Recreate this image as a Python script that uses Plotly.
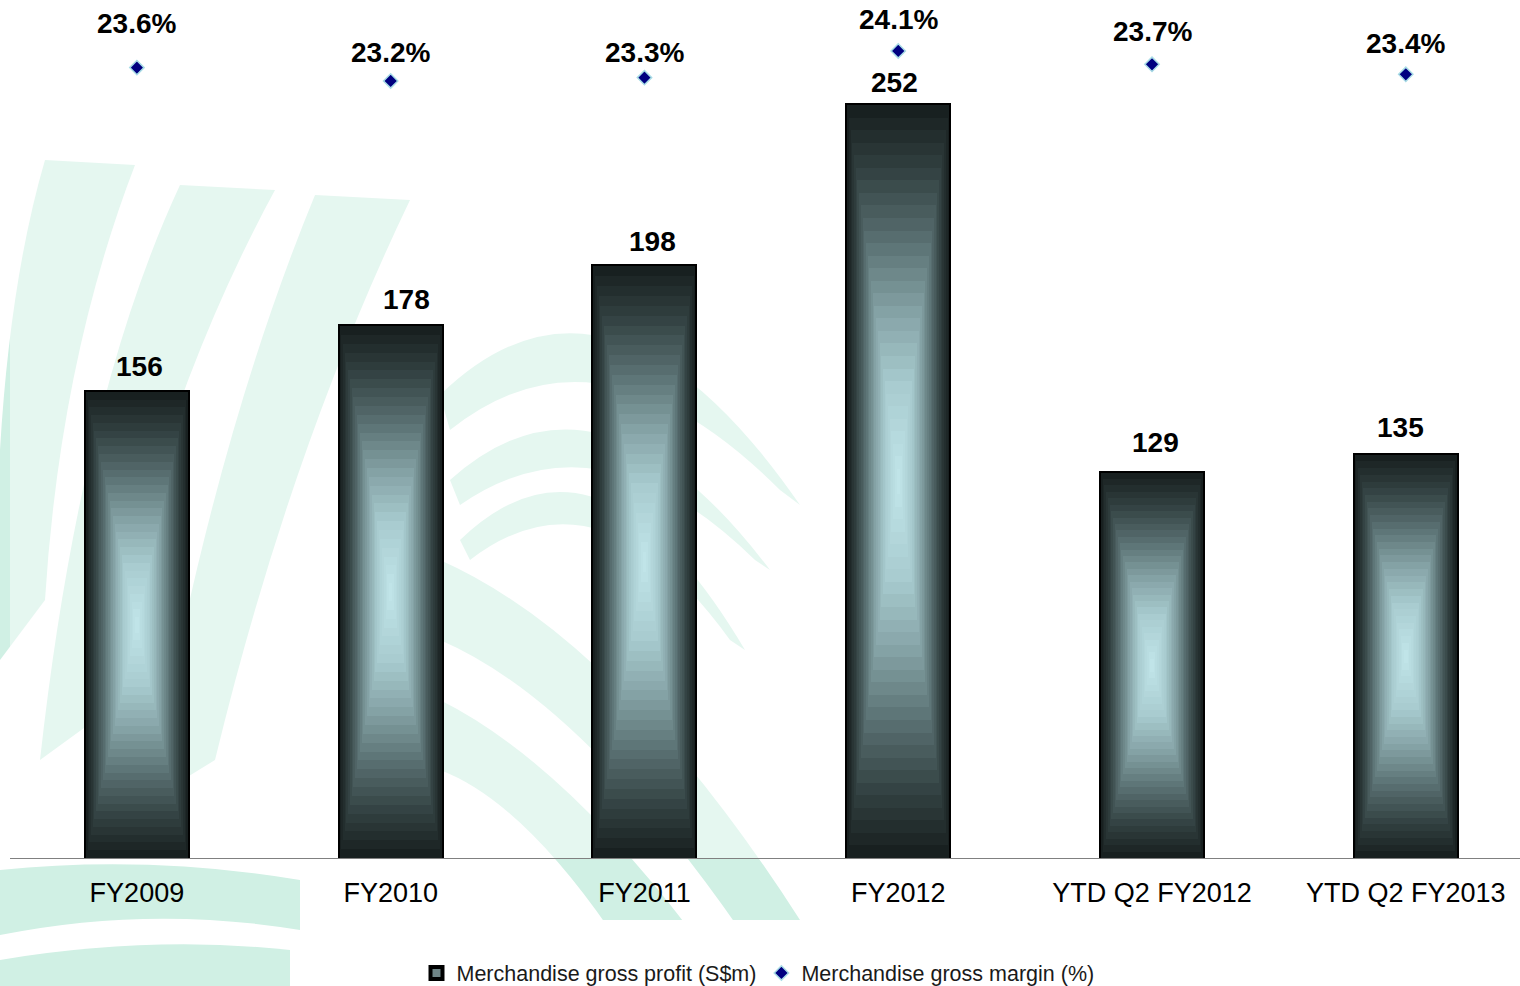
import plotly.graph_objects as go

# ---------------- data ----------------
categories = ["FY2009", "FY2010", "FY2011", "FY2012", "YTD Q2 FY2012", "YTD Q2 FY2013"]
gross_profit = [156, 178, 198, 252, 129, 135]          # S$m
gross_margin = [23.6, 23.2, 23.3, 24.1, 23.7, 23.4]    # %
profit_labels = [str(v) for v in gross_profit]
margin_labels = [f"{v:.1f}%" for v in gross_margin]

# label offsets (style, px)
profit_label_dx = [3, 16, 8, -4, 3, -5]
profit_label_dy = [25, 27, 25, 23, 30, 27]
margin_label_dy = [44, 28, 25, 31, 33, 31]

W, H = 1520, 986
ML, MR, MT, MB = 10, 0, 0, 128
PW, PH = W - ML - MR, H - MT - MB
FONT = "Liberation Sans, Arial, sans-serif"

BAR_W = 0.402
N = 30
stops = [(0.0, (24, 32, 32)), (0.15, (48, 62, 62)), (0.35, (88, 110, 112)),
         (0.55, (132, 162, 165)), (0.75, (168, 203, 207)), (1.0, (192, 228, 232))]


def grad(t):
    for (t0, c0), (t1, c1) in zip(stops[:-1], stops[1:]):
        if t <= t1:
            f = (t - t0) / (t1 - t0)
            return "rgb(%d,%d,%d)" % tuple(round(a + (b - a) * f) for a, b in zip(c0, c1))
    return "rgb(%d,%d,%d)" % stops[-1][1]


fig = go.Figure()

# outer bar (legend + outline)
fig.add_trace(go.Bar(
    x=categories, y=gross_profit, width=BAR_W,
    marker=dict(color="rgb(110,132,134)", line=dict(color="black", width=4)),
    name="Merchandise gross profit (S$m)", showlegend=True, hoverinfo="skip",
))
# rectangular path gradient: nested scaled bars
for k in range(N):
    s = 1 - k / N
    fig.add_trace(go.Bar(
        x=categories,
        y=[v * s for v in gross_profit],
        base=[v * (1 - s) / 2 for v in gross_profit],
        width=BAR_W * s,
        marker=dict(color=grad(k / (N - 1)), line=dict(width=0)),
        showlegend=False, hoverinfo="skip",
    ))

fig.add_trace(go.Scatter(
    x=categories, y=gross_margin, yaxis="y2", mode="markers",
    marker=dict(symbol="diamond", size=11, color="#000080",
                line=dict(color="#a8dce6", width=1.5)),
    name="Merchandise gross margin (%)",
))

annotations = []
for c, v, t, dx, dy in zip(categories, gross_profit, profit_labels, profit_label_dx, profit_label_dy):
    annotations.append(dict(x=c, y=v, xref="x", yref="y", text=f"<b>{t}</b>",
                            showarrow=False, xshift=dx, yshift=dy, yanchor="middle",
                            font=dict(family=FONT, size=28, color="black")))
for c, v, t, dy in zip(categories, gross_margin, margin_labels, margin_label_dy):
    annotations.append(dict(x=c, y=v, xref="x", yref="y2", text=f"<b>{t}</b>",
                            showarrow=False, yshift=dy, yanchor="middle",
                            font=dict(family=FONT, size=28, color="black")))


# ---------------- background watermark (decorative) ----------------
def px(x):
    return (x - ML) / PW


def py(y):
    return (H - MB - y) / PH


def path(cmds):
    out = []
    for c in cmds:
        if c == "Z":
            out.append("Z")
            continue
        op, pts = c[0], c[1:]
        out.append(op + " " + " ".join(f"{px(a):.5f},{py(b):.5f}" for a, b in pts))
    return " ".join(out)


MINT = "rgb(208,240,228)"
bands = [
    [("M", (45, 160)), ("L", (135, 165)), ("Q", (60, 360), (45, 600)), ("L", (0, 660)), ("L", (0, 450)), ("Q", (10, 280), (45, 160)), "Z"],
    [("M", (180, 185)), ("L", (275, 190)), ("Q", (150, 420), (95, 720)), ("L", (40, 760)), ("Q", (80, 400), (180, 185)), "Z"],
    [("M", (315, 195)), ("L", (410, 200)), ("Q", (290, 450), (215, 760)), ("L", (150, 800)), ("Q", (210, 450), (315, 195)), "Z"],
    [("M", (440, 395)), ("Q", (610, 230), (800, 505)), ("L", (780, 490)), ("Q", (600, 310), (450, 430)), "Z"],
    [("M", (450, 480)), ("Q", (600, 345), (770, 570)), ("L", (755, 560)), ("Q", (600, 408), (460, 505)), "Z"],
    [("M", (460, 540)), ("Q", (600, 405), (745, 650)), ("L", (730, 640)), ("Q", (600, 460), (470, 560)), "Z"],
    [("M", (440, 560)), ("Q", (620, 640), (800, 920)), ("L", (740, 930)), ("Q", (580, 700), (440, 640)), "Z"],
    [("M", (440, 700)), ("Q", (560, 760), (690, 930)), ("L", (610, 930)), ("Q", (520, 800), (440, 770)), "Z"],
    [("M", (0, 870)), ("Q", (150, 855), (300, 880)), ("L", (300, 930)), ("Q", (150, 905), (0, 935)), "Z"],
    [("M", (0, 960)), ("Q", (150, 935), (290, 950)), ("L", (290, 986)), ("L", (0, 986)), "Z"],
]
shapes = [dict(type="path", xref="paper", yref="paper", path=path(b), fillcolor=MINT,
               line=dict(width=0), layer="below") for b in bands]
# pale veil over plot area
shapes.append(dict(type="rect", xref="paper", yref="paper", x0=0, x1=1, y0=0, y1=1,
                   fillcolor="rgba(255,255,255,0.45)", line=dict(width=0), layer="below"))
# white legend panel
shapes.append(dict(type="rect", xref="paper", yref="paper", x0=px(373), x1=px(1520),
                   y0=py(986), y1=py(920), fillcolor="white", line=dict(width=0), layer="below"))

fig.update_layout(
    width=W, height=H,
    margin=dict(l=ML, r=MR, t=MT, b=MB, pad=0, autoexpand=False),
    paper_bgcolor="white", plot_bgcolor="rgba(0,0,0,0)",
    barmode="overlay", bargap=0,
    font=dict(family=FONT, color="black"),
    xaxis=dict(type="category", range=[-0.5, 5.45], showline=True, linecolor="#808080",
               linewidth=1.3, ticks="", showgrid=False, zeroline=False,
               tickfont=dict(family=FONT, size=27, color="black"), ticklabelstandoff=10),
    yaxis=dict(range=[0, PH / 2.988], visible=False, showgrid=False, zeroline=False),
    yaxis2=dict(range=[-0.13, 25.63], overlaying="y", visible=False, showgrid=False),
    legend=dict(orientation="h", x=px(758), xanchor="center", y=py(973), yanchor="middle",
                font=dict(family=FONT, size=21.5, color="#1a1a1a"), bgcolor="rgba(0,0,0,0)"),
    annotations=annotations,
    shapes=shapes,
    showlegend=True,
)

fig.write_html("out.html")
